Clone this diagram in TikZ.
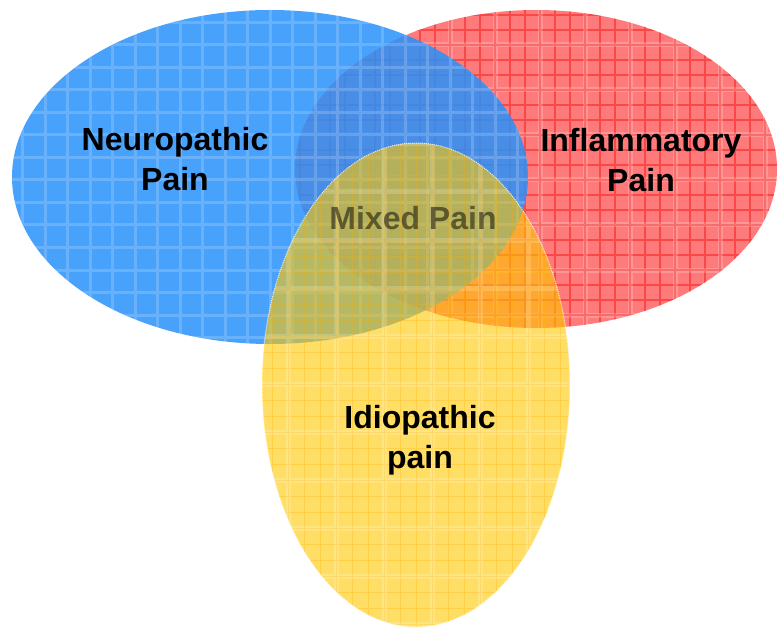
\documentclass[tikz,border=0pt]{standalone}
\usepackage{fontspec}
\setmainfont{Liberation Sans}
\begin{document}
\begin{tikzpicture}[x=1pt,y=-1pt,
  lbl/.style={font=\fontsize{32}{40}\selectfont\bfseries, align=center, text=black, inner sep=0pt},
  mixlbl/.style={lbl, text opacity=0.5}]
\useasboundingbox (0,0) rectangle (778,628);
\definecolor{redc}{RGB}{255,90,90}
\definecolor{bluec}{RGB}{40,145,250}
\definecolor{yelc}{RGB}{255,200,0}
\definecolor{redline}{RGB}{245,20,20}
\definecolor{yelline}{RGB}{255,175,0}
% red ellipse
\fill[redc, fill opacity=0.8] (536,169) ellipse [x radius=241pt, y radius=159pt];
\begin{scope}
  \clip (536,169) ellipse [x radius=241pt, y radius=159pt];
  \draw[redline, line width=1.2pt, opacity=0.5, step=15pt] (290,0) grid (780,330);
  \draw[white, line width=5pt, opacity=0.2, step=45pt] (290,0) grid (780,330);
\end{scope}
% blue ellipse
\fill[bluec, fill opacity=0.85] (270,177) ellipse [x radius=258pt, y radius=167pt];
\begin{scope}
  \clip (270,177) ellipse [x radius=258pt, y radius=167pt];
  \draw[white, line width=3pt, opacity=0.18, step=22.5pt] (0,0) grid (530,350);
\end{scope}
% yellow ellipse
\fill[yelc, fill opacity=0.6] (416,385) ellipse [x radius=154pt, y radius=242pt];
\begin{scope}
  \clip (416,385) ellipse [x radius=154pt, y radius=242pt];
  \draw[yelline, line width=1pt, opacity=0.3, step=16pt] (250,140) grid (580,630);
  \draw[white, line width=5pt, opacity=0.18, step=48pt] (250,140) grid (580,630);
\end{scope}
\draw[white, densely dotted, line width=1pt, opacity=0.8] (416,385) ellipse [x radius=154pt, y radius=242pt];
\node[lbl] (neuro) at (175,159) {Neuropathic\\Pain};
\node[lbl] (infl) at (641,160) {Inflammatory\\Pain};
\node[mixlbl] (mixed) at (413,218) {Mixed Pain};
\node[lbl] (idio) at (420,440) {Idiopathic\\pain};
\end{tikzpicture}
\end{document}
